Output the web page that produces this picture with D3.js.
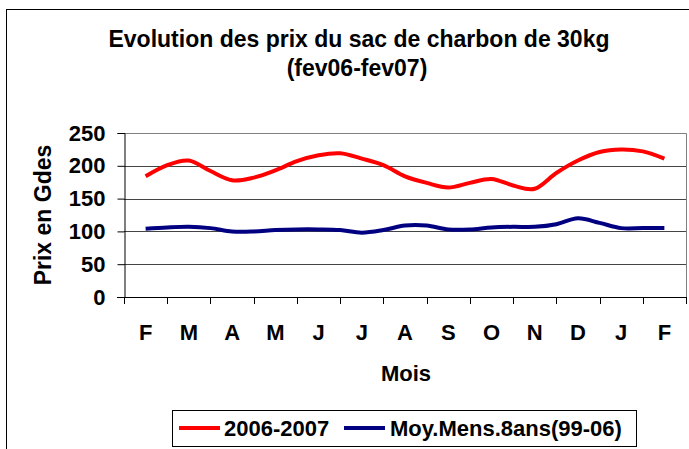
<!DOCTYPE html>
<html>
<head>
<meta charset="utf-8">
<script src="https://cdn.jsdelivr.net/npm/d3@7"></script>
<style>
  body { margin: 0; background: #fff; }
  svg { display: block; font-family: "Liberation Sans", Arial, sans-serif; font-weight: bold; }
</style>
</head>
<body>
<svg width="689" height="449"></svg>
<script>
// Month labels (fev06 -> fev07)
const months = ["F", "M", "A", "M", "J", "J", "A", "S", "O", "N", "D", "J", "F"];
// Semi-monthly readings (two per month, last one is Feb 07)
const prix2006 = [184, 201, 208, 192, 178, 182, 193, 207, 216, 219, 211, 201, 184,
                  174, 167, 174, 180, 170, 165, 189, 208, 221, 225, 222, 211];
const moyenne8ans = [104, 106, 107, 105, 100, 100, 102, 103, 103, 102, 98, 102, 109,
                     109, 103, 103, 106, 107, 107, 111, 120, 113, 105, 105, 105];
const yTicks = [0, 50, 100, 150, 200, 250];
const seriesNames = ["2006-2007", "Moy.Mens.8ans(99-06)"];
const seriesColors = ["#ff0000", "#000080"];

const svg = d3.select("svg");
const plot = { left: 124, right: 686, top: 133, bottom: 297 };

// outer chart frame (runs off the page on right / bottom)
svg.append("rect")
    .attr("x", 6.5).attr("y", 9.5)
    .attr("width", 700).attr("height", 460)
    .attr("fill", "none").attr("stroke", "#000");

// Title
svg.append("text")
    .attr("x", 359).attr("y", 47)
    .attr("text-anchor", "middle")
    .attr("font-size", 23)
    .text("Evolution des prix du sac de charbon de 30kg");
svg.append("text")
    .attr("x", 357).attr("y", 76)
    .attr("text-anchor", "middle")
    .attr("font-size", 23)
    .text("(fev06-fev07)");

const x = d3.scaleBand().domain(d3.range(months.length))
    .range([plot.left, plot.right]).paddingInner(0).paddingOuter(0);
// continuous position for the semi-monthly points
const xt = d3.scaleLinear().domain([0, months.length]).range([plot.left, plot.right]);
const y = d3.scaleLinear().domain([0, 250]).range([plot.bottom, plot.top]);

// gridlines
svg.append("g")
    .selectAll("line")
    .data(yTicks.filter((d) => d > 0 && d < 250))
    .enter()
    .append("line")
    .attr("x1", plot.left).attr("x2", plot.right)
    .attr("y1", (d) => Math.round(y(d)) + 0.5)
    .attr("y2", (d) => Math.round(y(d)) + 0.5)
    .attr("stroke", "#444");

// plot area border (top + right)
svg.append("path")
    .attr("d", `M${plot.left},${plot.top + 0.5}H${plot.right + 0.5}V${plot.bottom}`)
    .attr("fill", "none").attr("stroke", "#808080");

// y axis
const yAxis = svg.append("g")
    .attr("transform", `translate(${plot.left + 0.5},0)`)
    .call(d3.axisLeft(y).tickValues(yTicks).tickSize(7).tickPadding(12));
yAxis.select(".domain").attr("stroke", "#000");
yAxis.selectAll(".tick line").attr("stroke", "#000");
yAxis.selectAll("text")
    .attr("font-size", 22).attr("font-family", null).attr("fill", "#000");
yAxis.attr("font-family", null);

// x axis line + boundary ticks
svg.append("line")
    .attr("x1", plot.left - 7).attr("x2", plot.right)
    .attr("y1", plot.bottom + 0.5).attr("y2", plot.bottom + 0.5)
    .attr("stroke", "#000");
svg.append("g")
    .selectAll("line")
    .data(d3.range(months.length + 1))
    .enter()
    .append("line")
    .attr("x1", (d) => Math.round(xt(d)) + 0.5)
    .attr("x2", (d) => Math.round(xt(d)) + 0.5)
    .attr("y1", plot.bottom).attr("y2", plot.bottom + 7)
    .attr("stroke", "#000");

// month labels
svg.append("g")
    .selectAll("text")
    .data(months)
    .enter()
    .append("text")
    .attr("x", (d, i) => x(i) + x.bandwidth() / 2)
    .attr("y", 340)
    .attr("text-anchor", "middle")
    .attr("font-size", 22)
    .text((d) => d);

// axis titles
svg.append("text")
    .attr("x", 406).attr("y", 381)
    .attr("text-anchor", "middle")
    .attr("font-size", 22)
    .text("Mois");
svg.append("text")
    .attr("transform", "translate(51,215) rotate(-90)")
    .attr("text-anchor", "middle")
    .attr("font-size", 23)
    .text("Prix en Gdes");

// lines
const line = d3.line()
    .x((d, i) => xt(i / 2 + 0.5))
    .y((d) => y(d))
    .curve(d3.curveCardinal.tension(0));

[moyenne8ans, prix2006].forEach((vals, j) => {
    svg.append("path")
        .datum(vals)
        .attr("d", line)
        .attr("fill", "none")
        .attr("stroke", seriesColors[1 - j])
        .attr("stroke-width", 4)
        .attr("stroke-linejoin", "round");
});

// legend
const legend = svg.append("g");
legend.append("rect")
    .attr("x", 172.5).attr("y", 410.5)
    .attr("width", 464).attr("height", 36)
    .attr("fill", "#fff").attr("stroke", "#000");
const legendX = [[179, 220, 224], [344, 385, 390]];
seriesNames.forEach((name, i) => {
    legend.append("line")
        .attr("x1", legendX[i][0]).attr("x2", legendX[i][1])
        .attr("y1", 428).attr("y2", 428)
        .attr("stroke", seriesColors[i]).attr("stroke-width", 4);
    legend.append("text")
        .attr("x", legendX[i][2]).attr("y", 436)
        .attr("font-size", 22)
        .text(name);
});
</script>
</body>
</html>
